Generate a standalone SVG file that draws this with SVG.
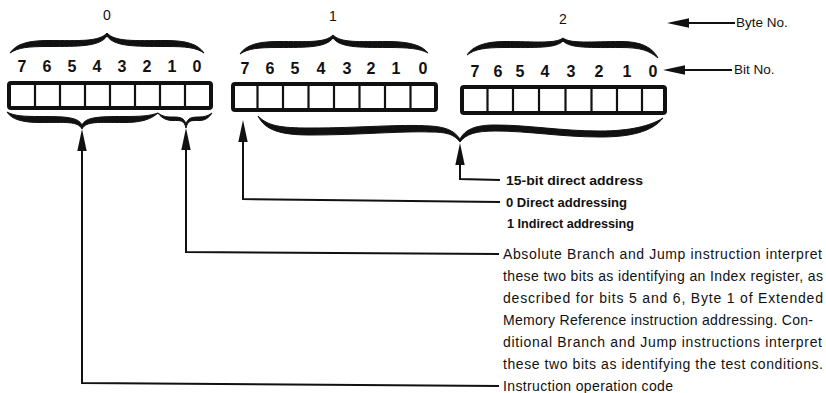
<svg xmlns="http://www.w3.org/2000/svg" width="826" height="393" viewBox="0 0 826 393">
<defs>
<style>
.reg{fill:#fff;stroke:#111;stroke-width:4;}
.div{stroke:#111;stroke-width:2.2;}
.bit{font-family:"Liberation Sans",Arial,sans-serif;font-weight:bold;font-size:16px;fill:#111;text-anchor:middle;}
.byte{font-family:"Liberation Sans",Arial,sans-serif;font-size:14px;fill:#111;text-anchor:middle;}
.brace{fill:#111;stroke:#111;stroke-width:1;stroke-linejoin:round;}
.lbl{font-family:"Liberation Sans",Arial,sans-serif;font-size:13.5px;fill:#111;}
.txt{font-family:"Liberation Sans",Arial,sans-serif;font-size:14px;fill:#111;}
.bld{font-family:"Liberation Sans",Arial,sans-serif;font-size:13px;font-weight:bold;fill:#111;}
.conn{fill:none;stroke:#111;stroke-width:2;}
</style>
<marker id="ah" markerUnits="userSpaceOnUse" viewBox="0 0 22 10" refX="0" refY="5" markerWidth="22" markerHeight="10" orient="auto">
<path d="M0,0.3 L22,5 L0,9.7 Z" fill="#111"/>
</marker>
</defs>
<rect width="826" height="393" fill="#fff"/>

<g id="byte0">
<text class="byte" x="107" y="20">0</text>
<path class="brace" d="M10,53 C16,44 28,40.5 48,40.5 C80,40.5 99,42 107,33 C115,42 134,40.5 166,40.5 C186,40.5 198,44 204,53 C196,47.5 186,46.5 166,46.5 C134,46.5 114,46.5 107,36 C100,46.5 80,46.5 48,46.5 C28,46.5 18,47.5 10,53 Z"/>
<text class="bit" x="22" y="72">7</text><text class="bit" x="47" y="72">6</text><text class="bit" x="72" y="72">5</text><text class="bit" x="97" y="72">4</text><text class="bit" x="122" y="72">3</text><text class="bit" x="147" y="72">2</text><text class="bit" x="172" y="72">1</text><text class="bit" x="197" y="72">0</text>
<rect class="reg" x="9" y="83" width="202" height="25" rx="2"/>
<path class="div" d="M35,83V108M60,83V108M85,83V108M110,83V108M135,83V108M160,83V108M185,83V108"/>
</g>

<g id="byte1">
<text class="byte" x="333" y="21">1</text>
<path class="brace" d="M240,54 C246,45 258,41.5 278,41.5 C308,41.5 325,43 333,35 C341,43 358,41.5 388,41.5 C408,41.5 422,45 428,53 C420,48.5 408,47.5 388,47.5 C358,47.5 340,47.5 333,38 C326,47.5 308,47.5 278,47.5 C258,47.5 248,48.5 240,54 Z"/>
<text class="bit" x="245" y="74">7</text><text class="bit" x="270" y="74">6</text><text class="bit" x="295" y="74">5</text><text class="bit" x="321" y="74">4</text><text class="bit" x="347" y="74">3</text><text class="bit" x="371" y="74">2</text><text class="bit" x="396" y="74">1</text><text class="bit" x="423" y="74">0</text>
<rect class="reg" x="233" y="84" width="203" height="26" rx="2"/>
<path class="div" d="M257.5,84V110M283,84V110M308.5,84V110M334,84V110M359.5,84V110M385,84V110M410.5,84V110"/>
</g>

<g id="byte2">
<text class="byte" x="563" y="24">2</text>
<path class="brace" d="M467,55 C473,46 485,41.5 505,41.5 C535,41.5 555,44 563,38 C571,44 591,41.5 621,41.5 C641,41.5 652,47 658,58 C649,50.5 641,47.5 621,47.5 C591,47.5 570,48.5 563,41 C556,48.5 535,47.5 505,47.5 C485,47.5 475,49 467,55 Z"/>
<text class="bit" x="475" y="77">7</text><text class="bit" x="498" y="77">6</text><text class="bit" x="520" y="77">5</text><text class="bit" x="545" y="77">4</text><text class="bit" x="571" y="77">3</text><text class="bit" x="599" y="77">2</text><text class="bit" x="627" y="77">1</text><text class="bit" x="653" y="77">0</text>
<rect class="reg" x="462" y="87" width="203" height="26" rx="2"/>
<path class="div" d="M487.5,87V113M513,87V113M539,87V113M565.5,87V113M591.5,87V113M617,87V113M642,87V113"/>
</g>

<g id="braces-below">
<path class="brace" d="M7,112 C14,116 24,116.5 40,116.5 C66,116.5 78,117 82,125 C86,117 98,116.5 124,116.5 C140,116.5 150,116 158,113 C150,120 140,122.5 124,122.5 C98,122.5 86,121 82,129 C78,121 66,122.5 40,122.5 C24,122.5 12,120 7,112 Z"/>
<path class="brace" d="M158,113 C163,117 168,117 173,117 C181,117 184,118 186,124 C188,118 191,117 199,117 C204,117 208,116 212,113 C208,119 204,120.5 199,120.5 C191,120.5 188,120 186,128 C184,120 181,120.5 173,120.5 C168,120.5 162,119 158,113 Z"/>
<path class="brace" d="M258,116 C268,126 280,128 310,128 C360,128 400,124 430,126 C448,127 455,132 460,139 C465,130 474,125 495,125 C530,125 560,131 600,131 C630,131 650,126 663,118 C652,132 630,137 600,137 C560,137 530,131 495,131 C476,131 466,134 460,142 C454,134 446,132 430,132 C400,131 360,135 310,135 C280,135 265,130 258,116 Z"/>
</g>

<g id="connectors">
<path class="conn" marker-end="url(#ah)" d="M735,23 H689"/>
<path class="conn" marker-end="url(#ah)" d="M732,70 H685"/>
<path class="conn" marker-end="url(#ah)" d="M500,180 L460,179 V165"/>
<path class="conn" marker-end="url(#ah)" d="M500,202 L243,199 V142"/>
<path class="conn" marker-end="url(#ah)" d="M499,254 L186,252 V150"/>
<path class="conn" marker-end="url(#ah)" d="M499,386 L82,383 V151"/>
</g>

<g id="label-byte-no"><text class="lbl" x="736" y="27">Byte No.</text></g>
<g id="label-bit-no"><text class="lbl" x="734" y="74">Bit No.</text></g>
<g id="label-15bit"><text class="bld" x="506" y="185" textLength="137" lengthAdjust="spacingAndGlyphs">15-bit direct address</text></g>
<g id="label-direct">
<text class="bld" x="506" y="207" textLength="121" lengthAdjust="spacingAndGlyphs">0 Direct addressing</text>
<text class="bld" x="507" y="228" textLength="127" lengthAdjust="spacingAndGlyphs">1 Indirect addressing</text>
</g>
<g id="label-index">
<text class="txt" x="503" y="259" textLength="319" lengthAdjust="spacing">Absolute Branch and Jump instruction interpret</text>
<text class="txt" x="503" y="281" textLength="320" lengthAdjust="spacing">these two bits as identifying an Index register, as</text>
<text class="txt" x="503" y="303" textLength="320" lengthAdjust="spacing">described for bits 5 and 6, Byte 1 of Extended</text>
<text class="txt" x="503" y="325" textLength="310" lengthAdjust="spacing">Memory Reference instruction addressing. Con-</text>
<text class="txt" x="503" y="347" textLength="319" lengthAdjust="spacing">ditional Branch and Jump instructions interpret</text>
<text class="txt" x="503" y="369" textLength="320" lengthAdjust="spacing">these two bits as identifying the test conditions.</text>
</g>
<g id="label-opcode"><text class="txt" x="503" y="391" textLength="170" lengthAdjust="spacing">Instruction operation code</text></g>
</svg>
